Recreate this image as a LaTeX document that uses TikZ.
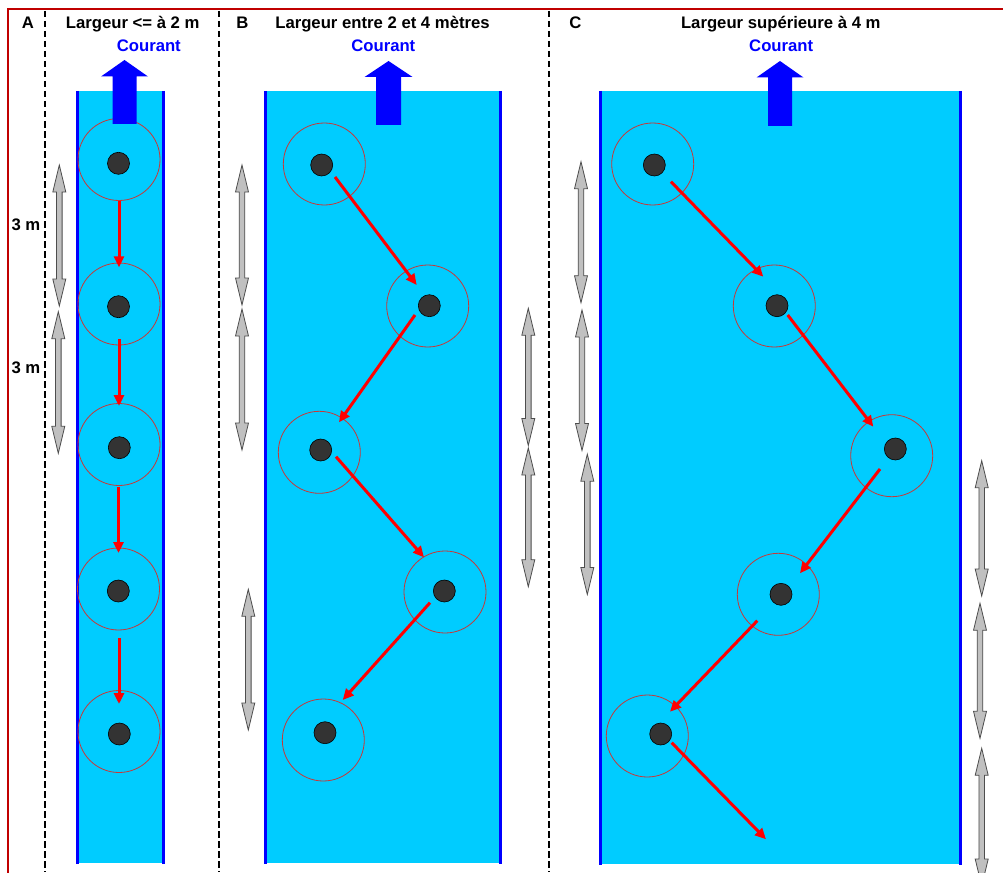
\documentclass[tikz,border=0pt]{standalone}
\usepackage{fontspec}
\setmainfont{Liberation Sans}
\usetikzlibrary{arrows.meta}
\definecolor{water}{HTML}{00CCFF}
\definecolor{bank}{HTML}{0000FF}
\definecolor{framec}{HTML}{C00000}
\definecolor{ringc}{HTML}{C83838}
\definecolor{stonec}{HTML}{333333}
\definecolor{grayf}{HTML}{C0C0C0}
\definecolor{grayd}{HTML}{4D4D4D}
\newcommand{\twoheadgray}[3]{%
  \draw[grayarrow] (#1,#2) -- (#1+6.5,#2+27) -- (#1+2.8,#2+27) -- (#1+2.8,#3-27) -- (#1+6.5,#3-27) -- (#1,#3) -- (#1-6.5,#3-27) -- (#1-2.8,#3-27) -- (#1-2.8,#2+27) -- (#1-6.5,#2+27) -- cycle;}
\newcommand{\currentarrow}[6]{% x, tip, headbase, headhalf, shafthalf, bottom
  \fill[bank] (#1,#2) -- (#1+#4,#3) -- (#1+#5,#3) -- (#1+#5,#6) -- (#1-#5,#6) -- (#1-#5,#3) -- (#1-#4,#3) -- cycle;}
\begin{document}
\begin{tikzpicture}[x=1pt,y=-1pt,
  lbl/.style={font=\fontsize{16.7}{18}\selectfont\bfseries, inner sep=0pt, anchor=base},
  cur/.style={lbl, text=bank},
  ring/.style={circle, draw=ringc, line width=0.8pt, minimum size=82pt, inner sep=0pt},
  stone/.style={circle, fill=stonec, draw=black, line width=0.6pt, minimum size=22pt, inner sep=0pt},
  flow/.style={red, line width=3pt, -{Triangle[length=11pt,width=10pt]}},
  divider/.style={black, line width=2pt, dash pattern=on 6.5pt off 3.5pt},
  bankline/.style={bank, line width=3pt},
  grayarrow/.style={fill=grayf, draw=grayd, line width=0.8pt, line join=miter}
]
\useasboundingbox (0,0) rectangle (1003,872);
\fill[white] (0,0) rectangle (1003,872);

% frame
\draw[framec, line width=2pt] (7.7,880) -- (7.7,9) -- (1010,9);

% dividers
\draw[divider] (45,11) -- (45,872);
\draw[divider] (218.5,11) -- (218.5,872);
\draw[divider] (549.3,11) -- (549.3,872);

% channels
\fill[water] (77.5,91) rectangle (163.2,863.3);
\draw[bankline] (77.5,91) -- (77.5,864);
\draw[bankline] (163.2,91) -- (163.2,864);
\fill[water] (265.8,91) rectangle (500,863.3);
\draw[bankline] (265.8,91) -- (265.8,864);
\draw[bankline] (500,91) -- (500,864);
\fill[water] (600.3,91) rectangle (960.3,864);
\draw[bankline] (600.3,91) -- (600.3,865);
\draw[bankline] (960.3,91) -- (960.3,865);

% headings
\node[lbl] (lA) at (27.8,29) {A};
\node[lbl] (tA) at (132.7,29) {Largeur <= à 2 m};
\node[cur] (cA) at (148.8,51.7) {Courant};
\node[lbl] (lB) at (242.5,28.5) {B};
\node[lbl] (tB) at (382.5,28.5) {Largeur entre 2 et 4 mètres};
\node[cur] (cB) at (383.3,51.7) {Courant};
\node[lbl] (lC) at (575.5,28.5) {C};
\node[lbl] (tC) at (780.8,28.5) {Largeur supérieure à 4 m};
\node[cur] (cC) at (781.2,51.7) {Courant};
\node[lbl, anchor=base east] (d1) at (40.5,230) {3 m};
\node[lbl, anchor=base east] (d2) at (40.5,373) {3 m};

% rings
\node[ring] (rA1) at (119,159.5) {};
\node[ring] (rA2) at (119,304) {};
\node[ring] (rA3) at (119,444.5) {};
\node[ring] (rA4) at (118.5,589) {};
\node[ring] (rA5) at (119,731.5) {};
\node[ring] (rB1) at (324.3,164) {};
\node[ring] (rB2) at (427.7,306) {};
\node[ring] (rB3) at (319.3,452.3) {};
\node[ring] (rB4) at (445,592) {};
\node[ring] (rB5) at (323.3,740) {};
\node[ring] (rC1) at (652.7,164) {};
\node[ring] (rC2) at (774.3,306) {};
\node[ring] (rC3) at (891.7,455.7) {};
\node[ring] (rC4) at (778.3,594.3) {};
\node[ring] (rC5) at (647.3,736) {};

% stones
\node[stone] (sA1) at (118.5,163.3) {};
\node[stone] (sA2) at (118.5,306.7) {};
\node[stone] (sA3) at (119.3,447.7) {};
\node[stone] (sA4) at (118.3,591) {};
\node[stone] (sA5) at (119.3,734) {};
\node[stone] (sB1) at (321.7,165) {};
\node[stone] (sB2) at (429.3,305.7) {};
\node[stone] (sB3) at (320.7,450) {};
\node[stone] (sB4) at (444.3,591) {};
\node[stone] (sB5) at (325,732.7) {};
\node[stone] (sC1) at (654.3,165) {};
\node[stone] (sC2) at (777,305.7) {};
\node[stone] (sC3) at (895.3,449) {};
\node[stone] (sC4) at (781,594.3) {};
\node[stone] (sC5) at (660.7,734) {};

% current arrows
\currentarrow{124.5}{60}{76.5}{23.5}{12}{124}
\currentarrow{388.5}{61}{77}{24}{12.5}{125}
\currentarrow{780}{61}{77.5}{23.5}{12}{126}

% flow arrows (named ends)
\coordinate (fA1s) at (119,200.7); \coordinate (fA1e) at (119,267.3);
\coordinate (fA2s) at (119,339.3); \coordinate (fA2e) at (119,406);
\coordinate (fA3s) at (118.5,486.5); \coordinate (fA3e) at (118.5,553);
\coordinate (fA4s) at (119,638); \coordinate (fA4e) at (119,704);
\draw[flow] (fA1s) -- (fA1e);
\draw[flow] (fA2s) -- (fA2e);
\draw[flow] (fA3s) -- (fA3e);
\draw[flow] (fA4s) -- (fA4e);

\coordinate (fB1s) at (335,177); \coordinate (fB1e) at (416.7,285);
\coordinate (fB2s) at (415,315); \coordinate (fB2e) at (339,422.3);
\coordinate (fB3s) at (336,456.7); \coordinate (fB3e) at (424,557.3);
\coordinate (fB4s) at (430,602.7); \coordinate (fB4e) at (342.7,700);
\draw[flow] (fB1s) -- (fB1e);
\draw[flow] (fB2s) -- (fB2e);
\draw[flow] (fB3s) -- (fB3e);
\draw[flow] (fB4s) -- (fB4e);

\coordinate (fC1s) at (671,181.7); \coordinate (fC1e) at (763.3,276.7);
\coordinate (fC2s) at (787.7,315); \coordinate (fC2e) at (873.3,426.7);
\coordinate (fC3s) at (880,469); \coordinate (fC3e) at (800,573.3);
\coordinate (fC4s) at (757.3,620.7); \coordinate (fC4e) at (670,711.7);
\coordinate (fC5s) at (671.7,742.7); \coordinate (fC5e) at (766,839.3);
\draw[flow] (fC1s) -- (fC1e);
\draw[flow] (fC2s) -- (fC2e);
\draw[flow] (fC3s) -- (fC3e);
\draw[flow] (fC4s) -- (fC4e);
\draw[flow] (fC5s) -- (fC5e);

% gray distance arrows
\twoheadgray{59.3}{165}{306}
\twoheadgray{58.3}{311.7}{453.3}
\twoheadgray{242}{165}{305}
\twoheadgray{242}{309}{450}
\twoheadgray{248.3}{589.3}{730}
\twoheadgray{528.3}{308.3}{445.5}
\twoheadgray{528.3}{448}{586.7}
\twoheadgray{581}{161.7}{302.7}
\twoheadgray{582}{310}{450.5}
\twoheadgray{587.3}{454.2}{594.5}
\twoheadgray{981.7}{460.7}{596}
\twoheadgray{980}{603.3}{738.3}
\twoheadgray{981.7}{748.3}{886}
\end{tikzpicture}
\end{document}
